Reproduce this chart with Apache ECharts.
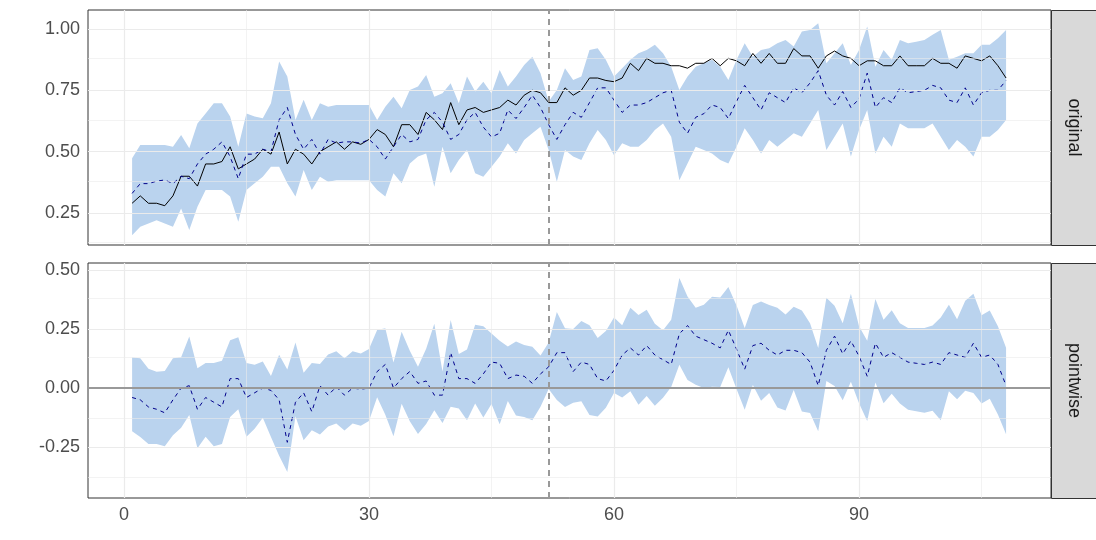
<!DOCTYPE html>
<html>
<head>
<meta charset="utf-8">
<script src="https://cdn.jsdelivr.net/npm/echarts@6/dist/echarts.min.js"></script>
<style>html,body{margin:0;background:#fff}#main{width:1096px;height:540px}</style>
</head>
<body>
<div id="main"></div>
<script>
var actual = [0.29,0.32,0.29,0.29,0.28,0.32,0.40,0.40,0.36,0.45,0.45,0.46,0.52,0.43,0.45,0.47,0.51,0.49,0.58,0.45,
  0.51,0.49,0.45,0.50,0.52,0.54,0.51,0.54,0.53,0.55,0.59,0.57,0.52,0.61,0.61,0.57,0.66,0.63,0.59,0.70,
  0.61,0.67,0.68,0.66,0.67,0.68,0.71,0.69,0.73,0.75,0.74,0.70,0.70,0.76,0.73,0.75,0.80,0.80,0.79,0.785,
  0.80,0.86,0.83,0.88,0.86,0.86,0.85,0.85,0.84,0.86,0.86,0.88,0.85,0.88,0.87,0.85,0.90,0.86,0.90,0.86,
  0.86,0.92,0.89,0.89,0.84,0.89,0.91,0.89,0.88,0.85,0.87,0.87,0.85,0.85,0.89,0.85,0.85,0.85,0.88,0.86,
  0.86,0.84,0.89,0.88,0.87,0.89,0.85,0.80];
var predicted = [0.33,0.37,0.37,0.38,0.385,0.37,0.40,0.39,0.45,0.49,0.51,0.54,0.48,0.39,0.49,0.49,0.51,0.50,0.63,0.68,
  0.57,0.51,0.55,0.49,0.55,0.535,0.54,0.54,0.535,0.55,0.52,0.47,0.52,0.57,0.54,0.55,0.63,0.66,0.62,0.55,
  0.57,0.63,0.66,0.60,0.56,0.575,0.67,0.635,0.68,0.73,0.68,0.61,0.55,0.61,0.66,0.64,0.70,0.76,0.76,0.71,
  0.66,0.69,0.69,0.70,0.72,0.74,0.75,0.62,0.575,0.64,0.655,0.69,0.68,0.635,0.705,0.77,0.72,0.67,0.74,0.72,
  0.70,0.76,0.74,0.78,0.83,0.73,0.69,0.745,0.68,0.715,0.82,0.68,0.72,0.70,0.76,0.74,0.745,0.75,0.77,0.76,
  0.71,0.70,0.76,0.69,0.74,0.75,0.75,0.79];
var upper = [0.473,0.527,0.527,0.527,0.527,0.520,0.568,0.514,0.615,0.656,0.697,0.697,0.643,0.520,0.656,0.643,0.636,0.697,0.867,0.806,
  0.629,0.711,0.629,0.697,0.683,0.690,0.690,0.690,0.690,0.690,0.629,0.683,0.724,0.677,0.751,0.765,0.812,0.724,0.738,0.779,
  0.697,0.806,0.745,0.785,0.738,0.833,0.765,0.806,0.853,0.887,0.819,0.704,0.751,0.840,0.792,0.806,0.914,0.921,0.874,0.806,
  0.840,0.874,0.901,0.914,0.935,0.901,0.846,0.751,0.806,0.846,0.860,0.874,0.846,0.792,0.874,0.942,0.887,0.914,0.921,0.942,
  0.955,0.928,0.989,0.996,1.023,0.860,0.901,0.942,0.853,0.914,1.010,0.846,0.914,0.874,0.955,0.942,0.948,0.955,0.976,0.996,
  0.874,0.887,0.901,0.901,0.935,0.935,0.962,0.996];
var lower = [0.160,0.194,0.208,0.221,0.208,0.194,0.269,0.181,0.276,0.344,0.344,0.344,0.317,0.215,0.344,0.371,0.398,0.439,0.439,0.371,
  0.317,0.425,0.344,0.398,0.378,0.384,0.384,0.384,0.384,0.384,0.344,0.317,0.412,0.371,0.452,0.480,0.493,0.357,0.520,0.412,
  0.466,0.507,0.412,0.398,0.439,0.480,0.534,0.493,0.548,0.575,0.602,0.507,0.378,0.507,0.480,0.466,0.534,0.588,0.548,0.486,
  0.534,0.520,0.520,0.548,0.588,0.615,0.561,0.384,0.452,0.520,0.507,0.493,0.466,0.452,0.520,0.595,0.548,0.493,0.548,0.520,
  0.548,0.575,0.561,0.615,0.670,0.507,0.561,0.615,0.480,0.588,0.670,0.493,0.561,0.520,0.615,0.595,0.595,0.595,0.615,0.561,
  0.507,0.548,0.520,0.480,0.561,0.561,0.588,0.629];
var xTicks = [0, 15, 30, 45, 60, 75, 90, 105];
var yTicksTop = [0.125, 0.25, 0.375, 0.5, 0.625, 0.75, 0.875, 1.0];
var yTicksBottom = [-0.375, -0.25, -0.125, 0, 0.125, 0.25, 0.375, 0.5];
var interventionTime = 52;
var panelNames = ["original", "pointwise"];

var t = actual.map(function (_, i) { return i + 1; });
var pointwise = actual.map(function (v, i) { return v - predicted[i]; });
var pwLower = actual.map(function (v, i) { return v - upper[i]; });
var pwUpper = actual.map(function (v, i) { return v - lower[i]; });
function pairs(arr) { return arr.map(function (v, i) { return [t[i], v]; }); }

var chart = echarts.init(document.getElementById("main"));
var labelStyle = { color: "#4d4d4d", fontSize: 18, fontFamily: "Liberation Sans, Arial" };
var major = function (v) { return Math.abs(v / 0.25 - Math.round(v / 0.25)) < 1e-6 && v > 0.2 || v <= 0.2 && v > -0.3 && Math.abs(v / 0.25 - Math.round(v / 0.25)) < 1e-6; };
var fill = "#bad3ee";

function xAxis(idx, show) {
  return {
    type: "value", gridIndex: idx, min: -4.4, max: 113.5,
    axisLine: { show: false },
    axisTick: { show: show, customValues: [0, 30, 60, 90], length: 4, lineStyle: { color: "#333" } },
    axisLabel: { show: show, customValues: [0, 30, 60, 90], margin: 8, ...labelStyle },
    splitLine: { show: false }
  };
}
function yAxis(idx, min, max, ticks) {
  return {
    type: "value", gridIndex: idx, min: min, max: max,
    axisLine: { show: false },
    axisTick: { show: true, customValues: ticks.filter(major), length: 4, lineStyle: { color: "#333" } },
    axisLabel: { customValues: ticks.filter(major), margin: 8, formatter: function (v) { return v.toFixed(2); }, ...labelStyle },
    splitLine: { show: false }
  };
}
function gridLines(yTicks) {
  var d = [];
  xTicks.forEach(function (x) { d.push({ xAxis: x, lineStyle: { width: x % 30 === 0 ? 1.2 : 0.6 } }); });
  yTicks.forEach(function (y) { d.push({ yAxis: y, lineStyle: { width: major(y) ? 1.2 : 0.6 } }); });
  return { silent: true, symbol: "none", label: { show: false }, lineStyle: { color: "#ebebeb", type: "solid" }, data: d };
}
// band drawn as one polygon through the axis scales
function band(idx, lo, hi, yTicks) {
  return {
    type: "custom", xAxisIndex: idx, yAxisIndex: idx, silent: true,
    data: [0],
    renderItem: function (params, api) {
      var pts = [];
      for (var i = 0; i < t.length; i++) pts.push(api.coord([t[i], hi[i]]));
      for (var j = t.length - 1; j >= 0; j--) pts.push(api.coord([t[j], lo[j]]));
      return { type: "polygon", shape: { points: pts }, style: { fill: fill } };
    },
    markLine: gridLines(yTicks), z: 1
  };
}

option = {
  animation: false,
  grid: [
    { left: 88, top: 10, width: 963, height: 235, show: true, borderColor: "#333", borderWidth: 1 },
    { left: 88, top: 263, width: 963, height: 235, show: true, borderColor: "#333", borderWidth: 1 }
  ],
  xAxis: [xAxis(0, false), xAxis(1, true)],
  yAxis: [yAxis(0, 0.12, 1.077, yTicksTop), yAxis(1, -0.466, 0.53, yTicksBottom)],
  series: [
    band(0, lower, upper, yTicksTop),
    { type: "line", xAxisIndex: 0, yAxisIndex: 0, data: pairs(actual), symbol: "none", z: 3,
      lineStyle: { color: "#000", width: 1 },
      markLine: { silent: true, symbol: "none", label: { show: false },
        lineStyle: { color: "#999", type: [6, 5], width: 2 }, data: [{ xAxis: interventionTime }] } },
    { type: "line", xAxisIndex: 0, yAxisIndex: 0, data: pairs(predicted), symbol: "none", z: 3,
      lineStyle: { color: "#00008b", width: 1, type: [4, 4] } },

    band(1, pwLower, pwUpper, yTicksBottom),
    { type: "line", xAxisIndex: 1, yAxisIndex: 1, data: pairs(pointwise), symbol: "none", z: 3,
      lineStyle: { color: "#00008b", width: 1, type: [4, 4] },
      markLine: { silent: true, symbol: "none", label: { show: false },
        data: [{ yAxis: 0, lineStyle: { color: "#999", type: "solid", width: 2 } },
               { xAxis: interventionTime, lineStyle: { color: "#999", type: [6, 5], width: 2 } }] } }
  ],
  graphic: panelNames.map(function (name, i) {
    var top = i === 0 ? 10 : 263;
    return {
      type: "group", left: 1051, top: top,
      children: [
        { type: "rect", shape: { x: 0, y: 0, width: 45, height: 235 }, style: { fill: "#d9d9d9", stroke: "#333", lineWidth: 1 } },
        { type: "text", x: 22, y: 117, rotation: -Math.PI / 2,
          style: { text: name, fill: "#1a1a1a", fontSize: 18, fontFamily: "Liberation Sans, Arial", align: "center", verticalAlign: "middle" } }
      ]
    };
  })
};
option && chart.setOption(option);
</script>
</body>
</html>
